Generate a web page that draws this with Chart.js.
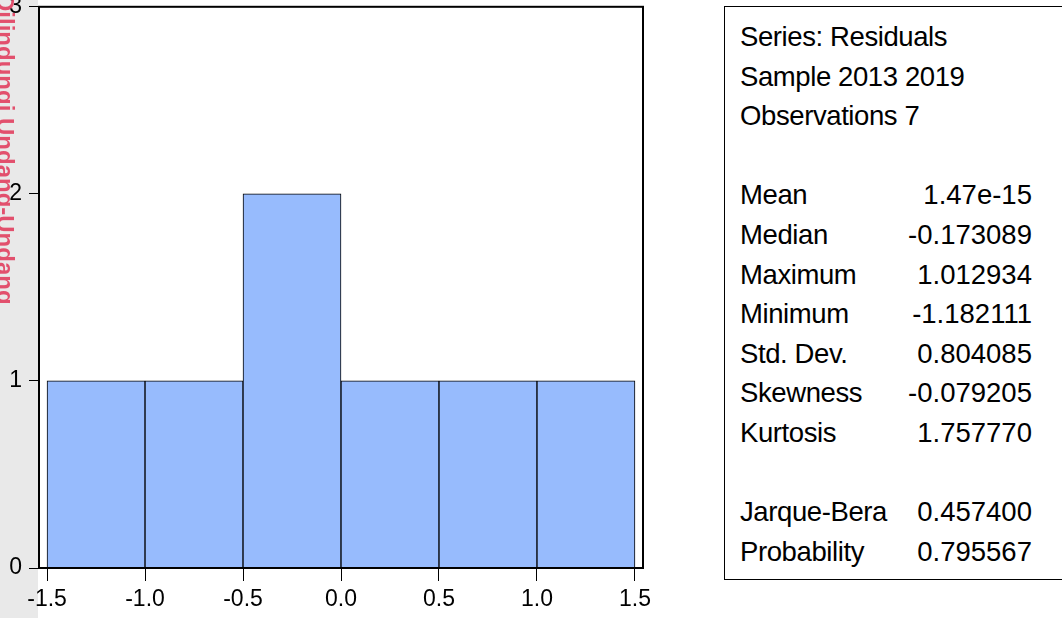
<!DOCTYPE html>
<html>
<head>
<meta charset="utf-8">
<script src="https://cdn.jsdelivr.net/npm/chart.js@4.4.1/dist/chart.umd.min.js"></script>
<style>
  html, body { margin: 0; padding: 0; background: #fff; }
  #wrap { position: relative; width: 1062px; height: 618px; overflow: hidden; font-family: "Liberation Sans", Arial, sans-serif; }
  #strip { position: absolute; left: 0; top: 0; width: 38px; height: 618px; background: #e9e9e9; }
  #mark { position: absolute; left: -175px; top: 160px; width: 360px; transform: rotate(90deg); color: #e0103a; font-size: 24px; font-weight: bold; opacity: 0.7; filter: blur(0.7px); white-space: nowrap; }
  #cv { position: absolute; left: 0; top: -14px; }
  #stats { position: absolute; left: 724px; top: 6px; width: 360px; height: 574px; border: 1.5px solid #000; background: #fff; box-sizing: border-box; }
  #stats table { position: absolute; left: 15px; top: 10px; border-collapse: collapse; font-size: 27.5px; letter-spacing: -0.4px; color: #000; }
  #stats td { height: 39.6px; padding: 0; line-height: 39.6px; white-space: nowrap; }
  #stats td.v { text-align: right; width: 145px; letter-spacing: 0; }
</style>
</head>
<body>
<div id="wrap">
  <div id="strip"></div>
  <div id="mark">Dilindungi Undang-Undang</div>
  <canvas id="cv" width="1062" height="632"></canvas>
  <div id="stats"><table id="tbl"></table></div>
</div>
<script>
// histogram of residuals
var binCenters = [-1.25, -0.75, -0.25, 0.25, 0.75, 1.25];
var counts = [1, 1, 2, 1, 1, 1];
var xTicks = [-1.5, -1.0, -0.5, 0.0, 0.5, 1.0, 1.5];
var yTicks = [0, 1, 2, 3];

var headLines = ["Series: Residuals", "Sample 2013 2019", "Observations 7"];
var statNames = ["Mean", "Median", "Maximum", "Minimum", "Std. Dev.", "Skewness", "Kurtosis"];
var statValues = ["1.47e-15", "-0.173089", "1.012934", "-1.182111", "0.804085", "-0.079205", "1.757770"];
var testNames = ["Jarque-Bera", "Probability"];
var testValues = ["0.457400", "0.795567"];

// stats table
var rows = [];
headLines.forEach(function (t) { rows.push('<tr><td colspan="2">' + t + '</td></tr>'); });
rows.push('<tr><td colspan="2">&nbsp;</td></tr>');
statNames.forEach(function (n, i) { rows.push('<tr><td>' + n + '</td><td class="v">' + statValues[i] + '</td></tr>'); });
rows.push('<tr><td colspan="2">&nbsp;</td></tr>');
testNames.forEach(function (n, i) { rows.push('<tr><td>' + n + '</td><td class="v">' + testValues[i] + '</td></tr>'); });
document.getElementById("tbl").innerHTML = rows.join("");

var boxPlugin = {
  id: "box",
  afterDatasetsDraw: function (chart) {
    var a = chart.chartArea, c = chart.ctx;
    c.save();
    c.strokeStyle = "#000";
    c.lineWidth = 2;
    c.strokeRect(a.left, a.top, a.right - a.left, a.bottom - a.top);
    c.restore();
  }
};

var tickFont = { family: "'Liberation Sans', Arial, sans-serif", size: 23 };

var hist = new Chart("cv", {
  type: "bar",
  data: {
    datasets: [{
      data: binCenters.map(function (x, i) { return { x: x, y: counts[i] }; }),
      backgroundColor: "#97bbfd",
      borderColor: "#000",
      borderWidth: 1,
      barPercentage: 1,
      categoryPercentage: 1
    }]
  },
  plugins: [boxPlugin],
  options: {
    responsive: false,
    animation: false,
    layout: { autoPadding: false, padding: { top: 6, right: 419, left: 0, bottom: 0 } },
    plugins: { legend: { display: false }, tooltip: { enabled: false } },
    scales: {
      x: {
        type: "linear",
        offset: false,
        min: -1.541,
        max: 1.541,
        afterBuildTicks: function (s) { s.ticks = xTicks.map(function (v) { return { value: v }; }); },
        afterFit: function (s) { s.height = 50; },
        ticks: { color: "#000", font: tickFont, padding: 5, maxRotation: 0, autoSkip: false,
                 callback: function (v) { return v.toFixed(1); } },
        grid: { offset: false, drawOnChartArea: false, tickLength: 13, color: "#000", lineWidth: 1 },
        border: { display: false }
      },
      y: {
        min: 0,
        max: 3,
        afterBuildTicks: function (s) { s.ticks = yTicks.map(function (v) { return { value: v }; }); },
        afterFit: function (s) { s.width = 39; },
        ticks: { color: "#000", font: tickFont, padding: 7, callback: function (v) { return String(v); } },
        grid: { drawOnChartArea: false, tickLength: 10, color: "#000", lineWidth: 1 },
        border: { display: false }
      }
    }
  }
});
</script>
</body>
</html>
